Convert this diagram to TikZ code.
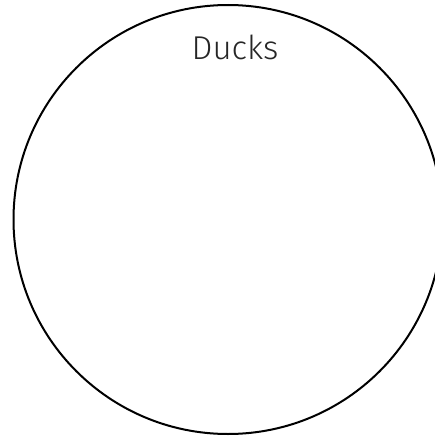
\documentclass[tikz,border=0pt]{standalone}
\usepackage{fontspec}
\setmainfont{Fira Sans}[UprightFont=* Light]
\begin{document}
\begin{tikzpicture}[x=1pt,y=-1pt]
\tikzset{setcircle/.style={draw=black,line width=2pt},
  setlabel/.style={font=\fontsize{33}{38}\selectfont,text=black!85,inner sep=0pt,anchor=center}}
\useasboundingbox (0,0) rectangle (435,439);
\clip (0,0) rectangle (435,439);
\node[setcircle,circle,minimum size=429pt,inner sep=0pt] (ducks) at (228,219.5) {};
\node[setlabel] (lbl) at (235,47) {Ducks};
\end{tikzpicture}
\end{document}
